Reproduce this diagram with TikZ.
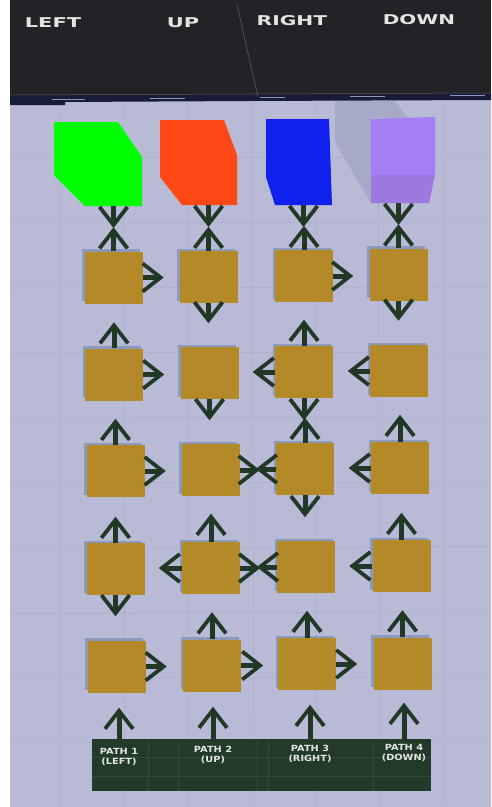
\documentclass[tikz,border=0pt]{standalone}
\usepackage{fontspec}
\setsansfont{DejaVu Sans}
\usetikzlibrary{arrows.meta,shadows}
\definecolor{bglav}{RGB}{184,186,214}
\definecolor{gridline}{RGB}{172,174,201}
\definecolor{bandgray}{RGB}{35,35,39}
\definecolor{bandnavy}{RGB}{24,28,52}
\definecolor{tilebrown}{RGB}{180,138,40}
\definecolor{tileshade}{RGB}{140,152,188}
\definecolor{arrowgreen}{RGB}{33,56,38}
\definecolor{panelgreen}{RGB}{36,58,40}
\definecolor{panelline}{RGB}{50,76,55}
\definecolor{labelwhite}{RGB}{228,228,228}
\definecolor{blockgreen}{RGB}{0,255,0}
\definecolor{blockred}{RGB}{255,72,21}
\definecolor{blockblue}{RGB}{16,32,238}
\definecolor{blockpurple}{RGB}{164,126,242}
\definecolor{blockpurpledk}{RGB}{156,120,224}
\definecolor{shadowlav}{RGB}{166,169,200}

\begin{document}
\begin{tikzpicture}[x=1pt,y=-1pt,line width=.5pt,
  tile/.style={fill=tilebrown,minimum width=58pt,minimum height=52pt,inner sep=0pt,
    drop shadow={shadow xshift=-2.5pt,shadow yshift=2.5pt,fill=tileshade,opacity=1}},
  stub/.style={draw=arrowgreen,line width=5pt,-{Straight Barb[length=18pt,width=28pt,line width=3.8pt]}},
  toplabel/.style={text=labelwhite,inner sep=0pt,font=\sffamily\bfseries\fontsize{13.5}{15}\selectfont},
  pathlabel/.style={text=labelwhite,inner sep=0pt,align=center,font=\sffamily\bfseries\fontsize{8.5}{10.5}\selectfont}]
\path[use as bounding box] (0,0) rectangle (491,807);
\fill[white] (0,0) rectangle (491,807);
\fill[bglav] (10,95) rectangle (491,807);
% floor grid
\foreach \gx in {59,123,187,252,315,378,443}
  \draw[gridline] (\gx,100) -- (\gx+2,807);
\foreach \gy in {158,223,288,353,418,483,548,613,678,743}
  \draw[gridline] (10,\gy) -- (491,\gy-1);
% header band
\fill[bandgray] (10,0) rectangle (491,96);
\fill[bandnavy] (10,95) -- (491,93) -- (491,100) -- (250,101) -- (65,102) -- (65,105) -- (10,105) -- cycle;
\draw[gray!60!bandgray] (10,95) -- (491,93);
\draw[gray!70!bandgray] (237,5) -- (258,97);
\draw[tileshade,line width=1pt] (52,99) -- (85,99) (150,98) -- (185,98) (260,97) -- (285,97) (350,96) -- (385,96) (450,95) -- (485,95);
\node[toplabel] (t1) at (53,23) {\scalebox{1.55}[1]{LEFT}};
\node[toplabel] (t2) at (183,23) {\scalebox{1.55}[1]{UP}};
\node[toplabel] (t3) at (292,21) {\scalebox{1.5}[1]{RIGHT}};
\node[toplabel] (t4) at (419,20) {\scalebox{1.48}[1]{DOWN}};
% goal blocks
\fill[shadowlav] (335,101) -- (395,101) -- (408,118) -- (371,118) -- (371,203) -- (335,142) -- cycle;
\fill[blockgreen] (54,122) -- (118,122) -- (142,157) -- (142,206) -- (85,206) -- (54,175) -- cycle;
\fill[blockred] (160,120) -- (224,120) -- (237,155) -- (237,205) -- (182,205) -- (160,177) -- cycle;
\fill[blockblue] (266,119) -- (329,119) -- (332,205) -- (275,205) -- (266,177) -- cycle;
\fill[blockpurple] (371,119) -- (435,117) -- (435,175) -- (371,175) -- cycle;
\fill[blockpurpledk] (371,175) -- (435,175) -- (429,203) -- (371,203) -- cycle;
\coordinate (green) at (113.5,206);
\coordinate (red) at (208.5,205);
\coordinate (blue) at (303.5,205);
\coordinate (purple) at (398.5,203);
% tiles
\node[tile] (b11) at (113.5,277.5) {};
\node[tile] (b12) at (208.5,277) {};
\node[tile] (b13) at (304,276) {};
\node[tile] (b14) at (398.5,274.5) {};
\node[tile] (b21) at (114,374.5) {};
\node[tile] (b22) at (209.5,373) {};
\node[tile] (b23) at (304,372) {};
\node[tile] (b24) at (399,371) {};
\node[tile] (b31) at (115.5,471) {};
\node[tile] (b32) at (210.5,470) {};
\node[tile] (b33) at (305,469) {};
\node[tile] (b34) at (400,468) {};
\node[tile] (b41) at (115.5,569) {};
\node[tile] (b42) at (211,568) {};
\node[tile] (b43) at (306,567) {};
\node[tile] (b44) at (401.5,566) {};
\node[tile] (b51) at (116.5,666.5) {};
\node[tile] (b52) at (212,665.5) {};
\node[tile] (b53) at (307,664) {};
\node[tile] (b54) at (402.5,663.5) {};
% arrows out of the goal blocks
\draw[stub] (green) -- ++(0,22);
\draw[stub] (red) -- ++(0,22);
\draw[stub] (blue) -- ++(0,22);
\draw[stub] (purple) -- ++(0,22);
% row 1
\draw[stub] (b11.north) -- ++(0,-24);
\draw[stub] (b11.east) -- ++(21,0);
\draw[stub] (b12.north) -- ++(0,-24);
\draw[stub] (b12.south) -- ++(0,20);
\draw[stub] (b13.north) -- ++(0,-24);
\draw[stub] (b13.east) -- ++(20,0);
\draw[stub] (b14.north) -- ++(0,-24);
\draw[stub] (b14.south) -- ++(0,20);
% row 2
\draw[stub] (b21.north) -- ++(0,-26);
\draw[stub] (b21.east) -- ++(21,0);
\draw[stub] (b22.south) -- ++(0,21);
\draw[stub] (b23.north) -- ++(0,-26);
\draw[stub] (b23.west) -- ++(-22,0);
\draw[stub] (b23.south) -- ++(0,22);
\draw[stub] (b24.west) -- ++(-22,0);
% row 3
\draw[stub] (b31.north) -- ++(0,-26);
\draw[stub] (b31.east) -- ++(21,0);
\draw[stub] (b32.east) -- ++(20,0);
\draw[stub] (b33.north) -- ++(0,-25);
\draw[stub] (b33.west) -- ++(-20,0);
\draw[stub] (b33.south) -- ++(0,22);
\draw[stub] (b34.north) -- ++(0,-27);
\draw[stub] (b34.west) -- ++(-22,0);
% row 4
\draw[stub] (b41.north) -- ++(0,-26);
\draw[stub] (b41.south) -- ++(0,21);
\draw[stub] (b42.north) -- ++(0,-28);
\draw[stub] (b42.west) -- ++(-23,0);
\draw[stub] (b42.east) -- ++(20,0);
\draw[stub] (b43.west) -- ++(-20,0);
\draw[stub] (b44.north) -- ++(0,-27);
\draw[stub] (b44.west) -- ++(-23,0);
% row 5
\draw[stub] (b51.east) -- ++(21,0);
\draw[stub] (b52.north) -- ++(0,-27);
\draw[stub] (b52.east) -- ++(22,0);
\draw[stub] (b53.north) -- ++(0,-27);
\draw[stub] (b53.east) -- ++(21,0);
\draw[stub] (b54.north) -- ++(0,-27);
% start panel
\node[fill=panelgreen,minimum width=339pt,minimum height=52pt,inner sep=0pt] (panel) at (261.5,765) {};
\draw[panelline] (148,740) -- (148,791) (178,740) -- (178,791) (257,740) -- (257,791) (268,740) -- (268,791) (373,740) -- (373,791) (92,757) -- (431,757) (92,776) -- (431,776);
\node[pathlabel] (p1) at (119,757) {\scalebox{1.15}[1]{PATH 1}\\\scalebox{1.15}[1]{(LEFT)}};
\node[pathlabel] (p2) at (213,755) {\scalebox{1.15}[1]{PATH 2}\\\scalebox{1.15}[1]{(UP)}};
\node[pathlabel] (p3) at (310,754) {\scalebox{1.15}[1]{PATH 3}\\\scalebox{1.15}[1]{(RIGHT)}};
\node[pathlabel] (p4) at (404,753) {\scalebox{1.15}[1]{PATH 4}\\\scalebox{1.15}[1]{(DOWN)}};
\draw[stub] (p1 |- panel.north) -- ++(0,-31);
\draw[stub] (p2 |- panel.north) -- ++(0,-32);
\draw[stub] (p3 |- panel.north) -- ++(0,-34);
\draw[stub] (p4 |- panel.north) -- ++(0,-36);
\end{tikzpicture}
\end{document}
